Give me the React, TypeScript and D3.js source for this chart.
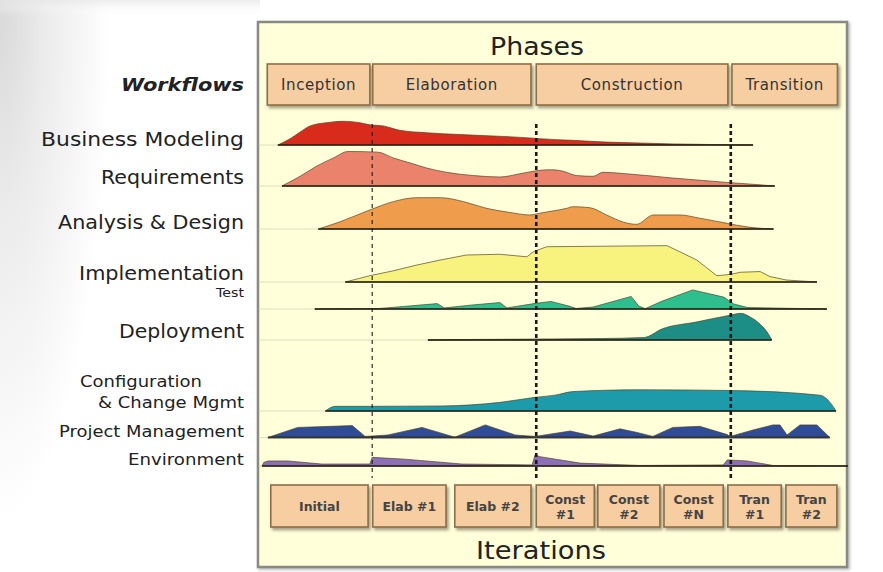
import React from 'react';
import * as d3 from 'd3';

type Pt = [number, number];

// ---- DATA (time axis 0..100 across the project, effort 0..10) ----
const workflowNames = [
  'Business Modeling', 'Requirements', 'Analysis & Design', 'Implementation', 'Test',
  'Deployment', 'Configuration & Change Mgmt', 'Project Management', 'Environment',
];

const businessModeling: Pt[] = [
  [2.7, 0], [4.8, 1.75], [6.5, 3.6], [8.2, 5.3], [11.0, 6.2], [13.9, 6.6], [16.7, 6.2], [18.4, 5.6],
  [20.7, 5.3], [23.5, 4.1], [28.1, 3.4], [33.8, 2.9], [39.5, 2.5], [46.3, 1.9], [47.4, 1.75],
  [53.1, 1.3], [58.9, 0.8], [64.5, 0.55], [70.1, 0.3], [75.9, 0.15], [83.8, 0],
];
const requirements: Pt[] = [
  [3.4, 0], [6.5, 2.7], [9.3, 5.5], [12.2, 7.8], [14.7, 9.6], [19.8, 9.4], [22.4, 7.8], [25.3, 6.4],
  [28.1, 5.0], [31.5, 3.8], [36.1, 2.9], [40.6, 2.5], [44.0, 3.4], [46.3, 4.1], [48.6, 4.5], [49.7, 4.5],
  [51.4, 4.1], [53.7, 2.9], [56.5, 2.7], [58.2, 3.8], [62.2, 3.4], [70.2, 2.2], [79.3, 1.0], [84.4, 0.4], [87.5, 0],
];
const analysisDesign: Pt[] = [
  [9.6, 0], [13.3, 2.0], [18.4, 5.3], [22.4, 7.6], [26.4, 8.7], [30.4, 8.7], [34.4, 7.6], [38.3, 5.75],
  [42.3, 4.6], [45.7, 3.9], [47.4, 4.4], [52.0, 5.75], [53.1, 6.2], [56.0, 5.9], [58.8, 3.9], [61.7, 1.9],
  [63.9, 1.3], [66.8, 3.9], [71.3, 3.9], [74.7, 3.0], [79.3, 1.6], [82.7, 0.6], [87.3, 0],
];
const implementation: Pt[] = [
  [14.2, 0], [18.4, 1.75], [22.4, 3.1], [26.4, 4.7], [30.4, 6.1], [34.9, 7.5], [40.6, 7.7], [45.2, 7.0],
  [46.3, 8.4], [48.6, 9.8], [69.1, 10.1], [71.3, 8.4], [74.2, 6.1], [77.6, 1.75], [79.9, 2.1],
  [81.6, 2.7], [85.0, 2.9], [86.7, 1.5], [89.5, 0.55], [94.7, 0],
];
const test: Pt[] = [
  [9.0, 0], [20.1, 0.15], [24.1, 0.7], [29.9, 1.5], [31.1, 0.3], [35.8, 1.1], [40.6, 1.8], [41.8, 0.3],
  [46.4, 1.5], [49.3, 2.1], [52.4, 0.8], [53.6, 0.15], [56.5, 0.55], [63.0, 3.5], [64.3, 0.8], [65.4, 0.1],
  [68.3, 2.2], [73.5, 5.3], [78.8, 3.3], [80.5, 1.4], [82.9, 0.4], [96.4, 0],
];
const deployment: Pt[] = [
  [28.3, 0], [35.8, 0.15], [57.7, 0.4], [65.2, 0.7], [68.3, 3.1], [74.1, 5.0], [79.9, 6.9], [81.7, 7.4],
  [83.3, 6.4], [85.0, 4.4], [86.2, 2.2], [86.8, 0.6], [87.0, 0],
];
const configMgmt: Pt[] = [
  [10.8, 0], [12.5, 1.3], [18.4, 1.3], [30.7, 1.4], [40.6, 2.4], [46.6, 3.8], [50.0, 4.4], [53.1, 5.4],
  [64.5, 5.9], [79.9, 5.7], [95.2, 4.4], [97.8, 0.4], [97.95, 0],
];
const projectMgmt: Pt[] = [
  [1.0, 0], [6.1, 2.8], [15.4, 3.3], [17.6, 0.3], [21.5, 0.7], [27.3, 2.8], [32.9, 0.1], [38.1, 3.5],
  [43.2, 0.7], [46.6, 0.3], [52.6, 1.8], [56.5, 0.4], [61.1, 2.4], [64.0, 1.4], [66.7, 0.3], [70.1, 2.8],
  [74.7, 3.1], [79.4, 0.8], [79.9, 0.3], [83.8, 2.1], [87.2, 3.5], [88.4, 3.5], [89.6, 0.7], [91.8, 3.5],
  [94.7, 3.5], [96.9, 0],
];
const environment: Pt[] = [
  [0, 0], [0.3, 1.0], [1.0, 1.4], [4.4, 1.4], [10.2, 0.55], [18.4, 0.55], [18.8, 2.4], [24.4, 1.9],
  [34.1, 0.55], [46.1, 0.3], [46.6, 3.1], [47.4, 2.6], [54.3, 0.8], [64.5, 0.15], [78.7, 0.3],
  [79.4, 1.7], [82.8, 1.4], [87.2, 0.15], [100, 0],
];

const phaseNames = ['Inception', 'Elaboration', 'Construction', 'Transition'];
const phaseStart = [0.9, 18.9, 46.8, 80.2];
const phaseEnd = [18.4, 45.9, 79.5, 98.2];
const phaseBoundaries = [18.8, 46.8, 80.0];

const iterationLabels = [['Initial'], ['Elab #1'], ['Elab #2'], ['Const', '#1'], ['Const', '#2'], ['Const', '#N'], ['Tran', '#1'], ['Tran', '#2']];
const iterationStart = [1.5, 18.9, 32.9, 46.8, 57.3, 68.6, 79.5, 89.4];
const iterationEnd = [18.1, 31.4, 45.9, 56.7, 67.9, 78.7, 88.6, 98.1];

const seriesData: Pt[][] = [businessModeling, requirements, analysisDesign, implementation, test, deployment, configMgmt, projectMgmt, environment];

// ---- LAYOUT / STYLE ----
const W = 883, H = 572;
const frame = { x0: 258, y0: 22, x1: 847, y1: 567 };
const laneBase = [145, 186, 229, 282, 309, 340, 411, 437.5, 466];
const laneColor = ['#D92B1B', '#EA826C', '#EF9C4D', '#F8F27E', '#2FBE8E', '#1C8E86', '#1E9BAA', '#2E4C98', '#8D6FB7'];
const laneCurve = [d3.curveMonotoneX, d3.curveMonotoneX, d3.curveMonotoneX, d3.curveLinear, d3.curveLinear, d3.curveMonotoneX, d3.curveMonotoneX, d3.curveLinear, d3.curveLinear];

const labelRows = [
  { text: 'Workflows', y: 91, size: 17, len: 123, bold: true },
  { text: 'Business Modeling', y: 146, size: 19, len: 203 },
  { text: 'Requirements', y: 184, size: 19, len: 143 },
  { text: 'Analysis & Design', y: 229, size: 19, len: 186 },
  { text: 'Implementation', y: 280, size: 19, len: 165 },
  { text: 'Test', y: 297, size: 12, len: 28 },
  { text: 'Deployment', y: 338, size: 19, len: 125 },
  { text: 'Configuration', y: 387, size: 16, len: 122, xEnd: 202 },
  { text: '& Change Mgmt', y: 408, size: 16, len: 146 },
  { text: 'Project Management', y: 437, size: 16, len: 185 },
  { text: 'Environment', y: 465, size: 16, len: 116 },
];

const FONT = '"DejaVu Sans", Verdana, sans-serif';

export default function App() {
  const x = d3.scaleLinear().domain([0, 100]).range([262, 848]);
  const amp = d3.scaleLinear().domain([0, 10]).range([0, 36]);

  const phaseY0 = 64, phaseY1 = 105;
  const iterY0 = 485, iterY1 = 527;

  return (
    <svg width={W} height={H} style={{ position: 'absolute', left: 0, top: 0 }} fontFamily={FONT}>
      <defs>
        <radialGradient id="corner" cx="0" cy="0" r="1" gradientUnits="userSpaceOnUse" gradientTransform="translate(0,0) scale(110,520)">
          <stop offset="0" stopColor="#d8d8d8" />
          <stop offset="0.4" stopColor="#ebebeb" />
          <stop offset="1" stopColor="#ffffff" />
        </radialGradient>
        <linearGradient id="topStrip" x1="0" y1="0" x2="0" y2="1">
          <stop offset="0" stopColor="#e6e6e6" />
          <stop offset="1" stopColor="#ffffff" stopOpacity="0" />
        </linearGradient>
        <filter id="boxShadow" x="-10%" y="-10%" width="130%" height="140%">
          <feDropShadow dx="2" dy="2.5" stdDeviation="1.5" floodColor="#5a5040" floodOpacity="0.55" />
        </filter>
        <filter id="frameShadow" x="-5%" y="-5%" width="110%" height="110%">
          <feDropShadow dx="1.5" dy="1.5" stdDeviation="1.5" floodColor="#666" floodOpacity="0.5" />
        </filter>
      </defs>
      <rect x={0} y={0} width={W} height={H} fill="#ffffff" />
      <rect x={0} y={0} width={W} height={H} fill="url(#corner)" />
      <rect x={0} y={0} width={260} height={16} fill="url(#topStrip)" opacity={0.7} />

      {/* frame */}
      <rect x={frame.x0} y={frame.y0} width={frame.x1 - frame.x0} height={frame.y1 - frame.y0}
        fill="#FFFFDA" stroke="#8a8a84" strokeWidth={2.5} filter="url(#frameShadow)" />

      {/* title */}
      <text x={537} y={55} textAnchor="middle" fontSize={25} fill="#222" textLength={94} lengthAdjust="spacingAndGlyphs">Phases</text>

      {/* phase boxes */}
      {phaseNames.map((p, i) => {
        const bx0 = x(phaseStart[i]), bx1 = x(phaseEnd[i]);
        return (
          <g key={p}>
            <rect x={bx0} y={phaseY0} width={bx1 - bx0} height={phaseY1 - phaseY0} fill="#F7CDA2" stroke="#8E6E48" strokeWidth={1.6} filter="url(#boxShadow)" />
            <text x={(bx0 + bx1) / 2} y={(phaseY0 + phaseY1) / 2 + 5} textAnchor="middle" fontSize={15} fill="#333" letterSpacing={0.6}>{p}</text>
          </g>
        );
      })}

      {/* workflow labels */}
      {labelRows.map((r) => (
        <text key={r.text} x={r.xEnd ?? 244} y={r.y} textAnchor="end" fontSize={r.size} fill="#222"
          fontWeight={r.bold ? 'bold' : 'normal'} fontStyle={r.bold ? 'italic' : 'normal'}
          textLength={r.len} lengthAdjust="spacingAndGlyphs">{r.text}</text>
      ))}

      {/* humps */}
      {seriesData.map((data, i) => {
        const base = laneBase[i];
        const area = d3.area<Pt>().x((d) => x(d[0])).y0(base).y1((d) => base - amp(d[1])).curve(laneCurve[i]);
        const top = d3.line<Pt>().x((d) => x(d[0])).y((d) => base - amp(d[1])).curve(laneCurve[i]);
        const first = data[0][0], last = data[data.length - 1][0];
        return (
          <g key={workflowNames[i]}>
            <line x1={frame.x0} x2={x(first)} y1={base} y2={base} stroke="#b9b9a6" strokeWidth={0.8} opacity={0.6} />
            <path d={area(data) ?? ''} fill={laneColor[i]} />
            <path d={top(data) ?? ''} fill="none" stroke="#4a3a22" strokeOpacity={0.65} strokeWidth={1} />
            <line x1={x(first)} x2={x(last)} y1={base} y2={base} stroke="#2a2414" strokeWidth={1.8} opacity={0.85} />
          </g>
        );
      })}

      {/* phase boundary dashed lines */}
      {phaseBoundaries.map((b, i) => (
        <line key={b} x1={x(b)} x2={x(b)} y1={124} y2={478} stroke="#1a1a1a"
          strokeWidth={i === 0 ? 1.1 : 2.6} strokeDasharray={i === 0 ? '4 4' : '4 3'} />
      ))}

      {/* iteration boxes */}
      {iterationLabels.map((lines, i) => {
        const bx0 = x(iterationStart[i]), bx1 = x(iterationEnd[i]);
        const cy = (iterY0 + iterY1) / 2;
        return (
          <g key={lines.join(' ')}>
            <rect x={bx0} y={iterY0} width={bx1 - bx0} height={iterY1 - iterY0} fill="#F7CDA2" stroke="#8E6E48" strokeWidth={1.6} filter="url(#boxShadow)" />
            {lines.map((t, j) => (
              <text key={j} x={(bx0 + bx1) / 2} y={cy + 4.5 + (lines.length === 2 ? (j === 0 ? -7 : 8) : 0)}
                textAnchor="middle" fontSize={12.5} fontWeight="bold" fill="#444">{t}</text>
            ))}
          </g>
        );
      })}

      <text x={541} y={559} textAnchor="middle" fontSize={25} fill="#222" textLength={130} lengthAdjust="spacingAndGlyphs">Iterations</text>
    </svg>
  );
}
